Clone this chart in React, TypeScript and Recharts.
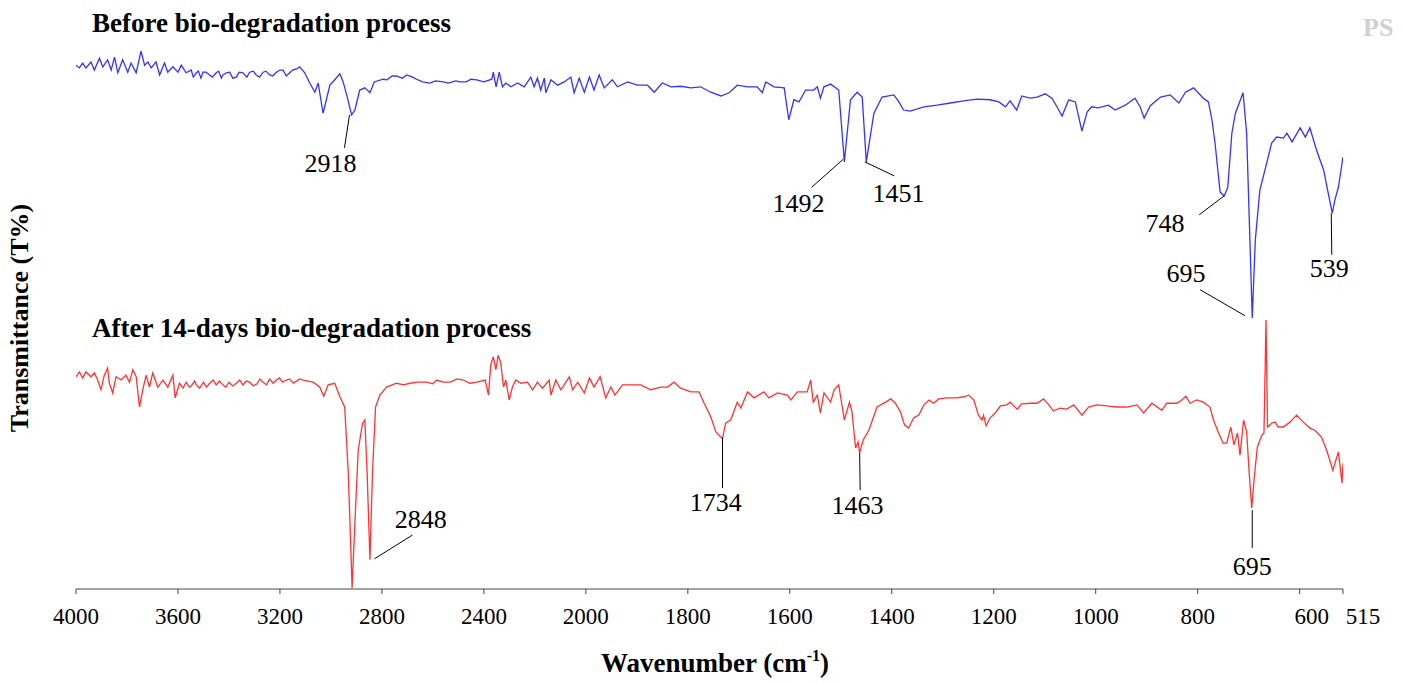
import React from 'react';
import { LineChart, Line, XAxis, YAxis, ReferenceLine, ReferenceDot } from 'recharts';

// FTIR spectra, [wavenumber cm-1, transmittance (arb.)]
const beforeSpectrum: [number, number][] = [
  [4000, 97.0], [3987, 96.5], [3974, 97.4], [3961, 96.5], [3941, 97.6], [3928, 96.1], [3908, 98.3], [3895, 96.7],
  [3876, 98.0], [3862, 96.1], [3849, 98.5], [3836, 95.6], [3817, 98.0], [3797, 95.7], [3784, 97.4], [3764, 95.6],
  [3745, 99.6], [3731, 97.0], [3718, 97.6], [3705, 96.5], [3686, 97.6], [3672, 95.2], [3653, 97.4], [3640, 95.7],
  [3620, 96.7], [3600, 95.7], [3587, 97.0], [3568, 95.6], [3548, 96.1], [3540, 94.8], [3528, 95.6], [3520, 95.9],
  [3510, 94.6], [3502, 95.7], [3490, 95.7], [3476, 95.2], [3465, 94.8], [3450, 95.6], [3440, 95.9], [3430, 94.6],
  [3424, 95.2], [3410, 95.6], [3397, 95.7], [3385, 94.6], [3371, 94.8], [3360, 95.7], [3345, 95.6], [3330, 94.8],
  [3319, 95.7], [3305, 95.9], [3293, 95.2], [3280, 94.8], [3266, 95.7], [3255, 95.9], [3240, 95.2], [3228, 95.0],
  [3214, 95.7], [3200, 96.1], [3188, 96.1], [3175, 95.0], [3162, 95.6], [3150, 96.1], [3135, 96.3], [3122, 96.7],
  [3103, 95.6], [3083, 93.7], [3063, 92.0], [3050, 93.7], [3031, 88.1], [3018, 90.6], [3004, 93.3], [2985, 94.3],
  [2965, 95.4], [2952, 93.9], [2936, 91.1], [2919, 87.8], [2906, 88.7], [2887, 92.4], [2867, 92.8], [2847, 91.9],
  [2830, 93.9], [2795, 94.4], [2780, 94.3], [2760, 95.0], [2743, 95.0], [2720, 94.6], [2703, 95.2], [2680, 94.8],
  [2664, 94.4], [2640, 93.9], [2612, 93.7], [2590, 94.1], [2559, 93.9], [2540, 93.7], [2510, 94.1], [2494, 93.9],
  [2470, 93.9], [2450, 94.4], [2428, 94.3], [2400, 93.9], [2369, 94.4], [2363, 95.7], [2352, 93.0], [2340, 95.7],
  [2327, 93.0], [2314, 93.7], [2294, 93.0], [2268, 93.7], [2242, 93.0], [2216, 94.8], [2203, 93.0], [2190, 94.6],
  [2177, 92.4], [2163, 94.6], [2157, 91.9], [2137, 94.3], [2111, 93.3], [2085, 93.9], [2059, 94.8], [2046, 91.9],
  [2026, 94.6], [2006, 92.0], [1993, 94.8], [1984, 92.4], [1974, 95.2], [1964, 92.8], [1948, 94.3], [1938, 93.0],
  [1918, 93.9], [1899, 93.3], [1879, 93.3], [1866, 92.0], [1850, 93.7], [1833, 93.0], [1814, 93.1], [1794, 92.8],
  [1775, 93.0], [1755, 92.0], [1735, 91.3], [1719, 91.9], [1703, 93.3], [1683, 93.0], [1664, 93.0], [1654, 91.9],
  [1647, 93.9], [1631, 93.0], [1611, 92.8], [1602, 86.9], [1592, 90.6], [1582, 90.2], [1569, 92.4], [1553, 92.4],
  [1546, 93.0], [1540, 90.9], [1533, 93.0], [1520, 93.5], [1504, 92.4], [1493, 79.1], [1481, 90.6], [1468, 92.0],
  [1458, 91.1], [1450, 79.1], [1435, 88.1], [1419, 91.1], [1396, 91.5], [1386, 90.2], [1377, 88.7], [1364, 88.5],
  [1337, 89.3], [1311, 89.6], [1285, 90.0], [1259, 90.4], [1233, 90.7], [1207, 90.6], [1190, 90.2], [1177, 89.3],
  [1168, 90.4], [1155, 88.7], [1145, 91.3], [1129, 90.9], [1115, 91.1], [1099, 91.7], [1086, 90.9], [1076, 89.3],
  [1066, 87.6], [1053, 90.6], [1040, 90.2], [1027, 84.8], [1017, 88.3], [1008, 89.3], [995, 89.1], [975, 89.6],
  [962, 88.7], [942, 89.6], [923, 90.9], [913, 89.3], [905, 87.2], [893, 89.5], [873, 91.1], [854, 91.5],
  [837, 90.0], [824, 92.0], [808, 92.8], [789, 90.9], [779, 90.2], [772, 86.9], [766, 82.6], [756, 73.5],
  [748, 72.8], [741, 74.4], [733, 84.4], [726, 88.1], [711, 91.9], [704, 84.4], [697, 62.8], [693, 50.2],
  [687, 64.6], [678, 73.9], [668, 77.6], [655, 82.6], [645, 83.7], [632, 83.5], [625, 84.4], [615, 82.8],
  [599, 85.4], [589, 83.7], [580, 85.4], [567, 81.3], [553, 77.6], [544, 73.3], [536, 69.6], [531, 72.0],
  [524, 74.4], [515, 80.0],
];

const afterSpectrum: [number, number][] = [
  [4000, 39.3], [3987, 40.2], [3974, 39.1], [3961, 40.2], [3941, 39.3], [3928, 40.0], [3915, 38.7], [3902, 36.9],
  [3889, 39.6], [3876, 40.9], [3869, 38.1], [3856, 36.3], [3843, 39.3], [3823, 38.7], [3804, 39.6], [3790, 38.3],
  [3777, 40.6], [3764, 39.3], [3751, 33.7], [3738, 36.9], [3725, 39.6], [3712, 37.4], [3699, 40.0], [3679, 37.4],
  [3659, 38.7], [3640, 37.4], [3620, 39.6], [3611, 35.4], [3594, 38.1], [3580, 37.2], [3568, 38.3], [3555, 37.4],
  [3548, 37.6], [3535, 38.5], [3528, 37.8], [3515, 37.2], [3500, 38.3], [3488, 37.4], [3476, 38.1], [3462, 38.7],
  [3450, 37.8], [3437, 38.5], [3424, 37.8], [3412, 37.4], [3400, 38.3], [3385, 37.6], [3371, 38.1], [3358, 38.7],
  [3345, 37.8], [3332, 38.5], [3319, 38.3], [3305, 37.6], [3290, 38.0], [3278, 38.9], [3266, 38.3], [3253, 37.8],
  [3240, 38.9], [3227, 38.1], [3214, 38.7], [3202, 39.1], [3190, 38.3], [3175, 38.7], [3162, 38.9], [3148, 38.1],
  [3135, 38.5], [3122, 38.9], [3109, 38.7], [3090, 38.5], [3070, 38.3], [3044, 37.4], [3028, 35.7], [3011, 37.8],
  [2985, 38.1], [2965, 35.6], [2946, 33.7], [2932, 21.5], [2923, 9.1], [2917, 0.2], [2906, 12.2], [2893, 25.7],
  [2876, 30.7], [2867, 31.3], [2858, 21.5], [2847, 5.4], [2837, 21.5], [2825, 33.7], [2808, 35.9], [2782, 37.4],
  [2760, 37.8], [2743, 38.1], [2715, 37.8], [2690, 38.1], [2660, 38.3], [2625, 38.3], [2600, 38.0], [2585, 38.7],
  [2560, 38.3], [2533, 38.3], [2505, 38.9], [2480, 38.7], [2455, 38.1], [2428, 38.3], [2395, 38.7], [2382, 35.9],
  [2373, 41.5], [2363, 43.0], [2353, 40.6], [2344, 43.3], [2334, 41.9], [2323, 37.4], [2314, 38.7], [2301, 35.0],
  [2288, 37.4], [2275, 38.7], [2255, 38.1], [2229, 38.3], [2209, 36.9], [2190, 38.3], [2170, 37.2], [2144, 38.7],
  [2137, 35.9], [2118, 38.7], [2098, 36.9], [2065, 39.3], [2052, 36.9], [2032, 38.3], [2006, 36.3], [1993, 39.1],
  [1984, 37.4], [1972, 39.3], [1961, 35.4], [1951, 37.4], [1943, 35.9], [1928, 37.8], [1912, 37.8], [1892, 37.8],
  [1873, 36.9], [1853, 37.4], [1840, 37.4], [1827, 38.3], [1814, 37.2], [1794, 36.5], [1778, 36.5], [1768, 34.4],
  [1755, 31.9], [1745, 29.1], [1732, 27.8], [1726, 30.7], [1716, 31.3], [1703, 34.6], [1696, 33.5], [1683, 36.5],
  [1670, 35.4], [1651, 36.5], [1641, 35.4], [1624, 36.3], [1605, 35.9], [1598, 35.0], [1585, 36.5], [1566, 36.5],
  [1559, 38.7], [1554, 34.6], [1546, 35.9], [1540, 32.6], [1533, 36.3], [1520, 34.6], [1513, 36.9], [1504, 37.8],
  [1500, 35.4], [1493, 31.3], [1483, 34.6], [1478, 32.8], [1471, 26.1], [1466, 27.2], [1463, 25.2], [1456, 27.6],
  [1445, 29.4], [1429, 33.7], [1412, 34.6], [1402, 35.2], [1393, 34.4], [1383, 32.8], [1375, 30.4], [1367, 29.8],
  [1357, 31.7], [1347, 32.2], [1337, 34.1], [1327, 35.0], [1318, 34.4], [1308, 35.2], [1292, 35.4], [1272, 35.4],
  [1259, 35.6], [1249, 35.9], [1239, 35.0], [1230, 32.2], [1223, 31.3], [1220, 32.2], [1215, 30.2], [1207, 31.7],
  [1197, 32.6], [1187, 33.9], [1174, 34.1], [1168, 34.6], [1154, 33.3], [1145, 34.3], [1128, 34.4], [1115, 34.4],
  [1102, 35.2], [1092, 34.1], [1083, 33.0], [1070, 33.5], [1057, 33.3], [1043, 34.1], [1027, 32.2], [1014, 33.7],
  [998, 34.1], [978, 33.9], [959, 33.7], [939, 33.7], [919, 34.1], [906, 32.6], [890, 34.4], [870, 33.1],
  [861, 34.4], [841, 34.4], [831, 35.0], [823, 35.7], [815, 34.4], [802, 35.0], [789, 34.6], [776, 33.7],
  [769, 31.3], [759, 28.9], [750, 27.0], [743, 27.0], [735, 30.0], [729, 26.7], [722, 28.9], [717, 24.8],
  [710, 31.3], [704, 29.1], [699, 21.5], [694, 15.0], [689, 20.7], [683, 26.3], [674, 28.5], [670, 28.9],
  [666, 49.8], [663, 30.0], [655, 30.7], [648, 30.9], [642, 30.0], [632, 30.0], [619, 30.9], [606, 32.2],
  [593, 30.9], [580, 29.8], [570, 29.4], [557, 28.1], [547, 25.7], [535, 22.0], [524, 25.4], [517, 19.6],
  [515, 23.3],
];

const xTickLabels = [4000, 3600, 3200, 2800, 2400, 2000, 1800, 1600, 1400, 1200, 1000, 800, 600, 515];
const yTicks = [0, 0.9, 7.8, 14.6, 21.7, 28.5, 35.4, 42.2, 49.1, 56.1, 63, 69.8, 76.7, 83.5, 90.6, 97.4, 100];

// peak labels: text position and leader line ends, in [wavenumber, T]
const peakLabels = [
  { text: '2918', at: [3002, 78.9], from: [2927, 87.8], to: [2947, 81.7] },
  { text: '1492', at: [1583, 71.5], from: [1495, 79.6], to: [1557, 74.4] },
  { text: '1451', at: [1387, 73.3], from: [1453, 79.1], to: [1395, 76.5] },
  { text: '748', at: [864, 67.8], from: [748, 72.8], to: [797, 69.3] },
  { text: '695', at: [823, 58.5], from: [707, 50.6], to: [795, 55.4] },
  { text: '539', at: [542, 59.4], from: [538, 69.6], to: [537, 61.9] },
  { text: '2848', at: [2648, 13.0], from: [2829, 5.6], to: [2680, 10.0] },
  { text: '1734', at: [1745, 16.1], from: [1732, 28.0], to: [1732, 18.7] },
  { text: '1463', at: [1467, 15.6], from: [1463, 25.2], to: [1462, 18.3] },
  { text: '695', at: [693, 4.3], from: [693, 14.6], to: [693, 7.6] },
];

// the axis is compressed 2x above 2000 cm-1
const toU = (w: number) => (w > 2000 ? 2000 + (w - 2000) / 2 : w);
const fromU = (u: number) => Math.round(u > 2000 ? 2000 + (u - 2000) * 2 : u);

const beforeData = beforeSpectrum.map(([w, t]) => ({ u: toU(w), t }));
const afterData = afterSpectrum.map(([w, t]) => ({ u: toU(w), t }));

const serif = "'Liberation Serif', 'Times New Roman', serif";
const W = 1395;
const H = 676;

// the last two labels sit a little to the right in the original
const labelShift: Record<number, number> = { 600: 12, 515: 20 };

function XTick(props: any) {
  const { x, y, payload } = props;
  const w = fromU(payload.value);
  return (
    <text x={x + (labelShift[w] ?? 0)} y={y} dy="0.71em" textAnchor="middle" fontSize={23} fill="#000">
      {w}
    </text>
  );
}

const heading = { position: 'absolute' as const, fontSize: 27, lineHeight: '27px', fontWeight: 'bold' as const, whiteSpace: 'nowrap' as const };

export default function App() {
  return (
    <div style={{ position: 'relative', width: W, height: H, fontFamily: serif }}>
      <style>{`html { overflow: hidden; } .recharts-wrapper text { font-family: ${serif}; }`}</style>
      <LineChart width={W} height={H} margin={{ top: 41, right: 60, left: 68, bottom: 65 }}>
        <XAxis
          type="number"
          dataKey="u"
          domain={[515, 3000]}
          reversed
          allowDataOverflow
          ticks={xTickLabels.map(toU)}
          height={30}
          interval={0}
          tickSize={5}
          tickMargin={14}
          stroke="#444"
          tick={<XTick />}
        />
        <YAxis
          type="number"
          domain={[0, 100]}
          ticks={yTicks}
          width={0}
          tickSize={5}
          interval={0}
          tickFormatter={() => ''}
          stroke="#444"
        />
        <Line
          data={beforeData}
          dataKey="t"
          type="linear"
          stroke="#3333ff"
          strokeWidth={1.3}
          dot={false}
          isAnimationActive={false}
        />
        <Line
          data={afterData}
          dataKey="t"
          type="linear"
          stroke="#ff3333"
          strokeWidth={1.3}
          dot={false}
          isAnimationActive={false}
        />
        {peakLabels.map((p, i) => (
          <ReferenceLine
            key={'l' + i}
            segment={[
              { x: toU(p.from[0]), y: p.from[1] },
              { x: toU(p.to[0]), y: p.to[1] },
            ]}
            stroke="#000"
            strokeWidth={1}
          />
        ))}
        {peakLabels.map((p, i) => (
          <ReferenceDot
            key={'t' + i}
            x={toU(p.at[0])}
            y={p.at[1]}
            r={0}
            fill="none"
            stroke="none"
            label={{ value: p.text, position: 'center', fill: '#000', fontSize: 26 }}
          />
        ))}
      </LineChart>

      <div style={{ ...heading, left: 84, top: 2 }}>Before bio-degradation process</div>
      <div style={{ ...heading, left: 84, top: 307 }}>After 14-days bio-degradation process</div>
      <div style={{ ...heading, left: 1355, top: 6, fontSize: 26, color: '#d0d0d0' }}>PS</div>
      <div style={{ ...heading, left: 507, top: 642, width: 400, textAlign: 'center' }}>
        Wavenumber (cm<sup style={{ fontSize: '0.6em', verticalAlign: '0.7em', lineHeight: 0 }}>-1</sup>)
      </div>
      <div style={{ ...heading, left: -138, top: 297, width: 300, height: 26, lineHeight: '26px', fontSize: 26, textAlign: 'center', transform: 'rotate(-90deg)' }}>
        Transmittance (T%)
      </div>
    </div>
  );
}
